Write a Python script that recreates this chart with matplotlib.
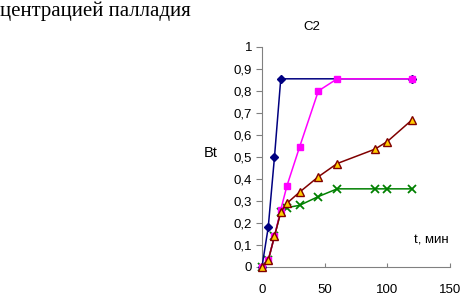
import matplotlib
matplotlib.use('Agg')
import matplotlib.pyplot as plt
from matplotlib.ticker import FuncFormatter

plt.rcParams['font.family'] = ['Liberation Sans', 'DejaVu Sans']

# data
t_blue = [0, 5, 10, 15, 120]
b_blue = [0, 0.18, 0.50, 0.855, 0.855]

t_mag = [0, 5, 10, 15, 20, 30, 45, 60, 120]
b_mag = [0, 0.03, 0.14, 0.26, 0.37, 0.545, 0.80, 0.855, 0.855]

t_tri = [0, 5, 10, 15, 20, 30, 45, 60, 90, 100, 120]
b_tri = [0, 0.03, 0.14, 0.25, 0.29, 0.34, 0.41, 0.47, 0.535, 0.57, 0.67]

t_grn = [0, 5, 10, 15, 20, 30, 45, 60, 90, 100, 120]
b_grn = [0, 0.03, 0.14, 0.25, 0.27, 0.28, 0.32, 0.355, 0.355, 0.355, 0.355]

fig = plt.figure(figsize=(4.62, 2.95), dpi=100)
ax = fig.add_axes([0.567, 0.095, 0.407, 0.746])

ax.plot(t_blue, b_blue, '-D', color='#000080', ms=4.5, lw=1.1, zorder=3)
ax.plot(t_mag, b_mag, '-s', color='#FF00FF', ms=5, lw=1.1, zorder=4)
ax.plot(t_grn, b_grn, '-x', color='#008000', ms=6, mew=1.3, lw=1.1, zorder=2)
ax.plot(t_tri, b_tri, '-^', color='#800000', mfc='#FFCC00', mec='#800000',
        ms=6, lw=1.1, zorder=5)

ax.set_xlim(0, 150)
ax.set_ylim(0, 1)
ax.set_xticks([0, 50, 100, 150])
ax.set_yticks([i / 10 for i in range(11)])
ax.yaxis.set_major_formatter(FuncFormatter(
    lambda v, p: ('%g' % round(v, 1)).replace('.', ',')))
ax.spines['top'].set_visible(False)
ax.spines['right'].set_visible(False)
for s in ['left', 'bottom']:
    ax.spines[s].set_color('#808080')
    ax.spines[s].set_linewidth(0.8)
ax.tick_params(axis='y', direction='out', length=4, color='#808080',
               labelsize=9.5, pad=3)
ax.tick_params(axis='x', direction='in', length=3, color='#808080',
               labelsize=9.5, pad=12)
for ln in ax.lines:
    ln.set_clip_on(False)

fig.text(0.675, 0.908, 'C2', fontsize=9.5, ha='center', va='center')
fig.text(0.457, 0.48, 'Bt', fontsize=10.5, ha='center', va='center')
ax.text(135, 0.12, 't, мин', fontsize=9.5, ha='center', va='center')

fig.text(0.0, 0.995, 'центрацией палладия', fontsize=15,
         family='Liberation Serif', ha='left', va='top')

fig.savefig('out.png', dpi=100)
